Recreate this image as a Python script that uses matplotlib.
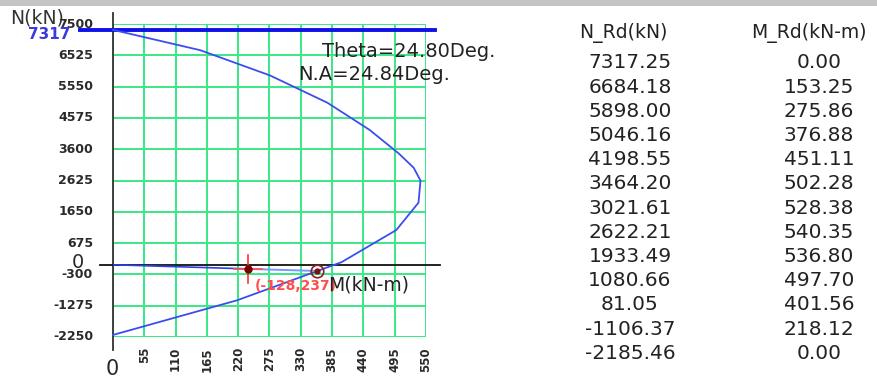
import numpy as np
import matplotlib
matplotlib.use("Agg")
import matplotlib.pyplot as plt
from matplotlib.patches import Rectangle

plt.rcParams['font.family'] = ['DejaVu Sans']

# Interaction diagram (axial resistance vs. moment resistance)
n_rd = [7317.25, 6684.18, 5898.00, 5046.16, 4198.55, 3464.20, 3021.61,
        2622.21, 1933.49, 1080.66, 81.05, -1106.37, -2185.46]
m_rd = [0.00, 153.25, 275.86, 376.88, 451.11, 502.28, 528.38,
        540.35, 536.80, 497.70, 401.56, 218.12, 0.00]

# Design load point (M, N)
load_m = 237
load_n = -128

theta_deg = 24.80
na_deg = 24.84

x_ticks = [55, 110, 165, 220, 275, 330, 385, 440, 495, 550]
y_ticks = [7500, 6525, 5550, 4575, 3600, 2625, 1650, 675, -300, -1275, -2250]

W, H = 878, 379
fig = plt.figure(figsize=(W / 100, H / 100), dpi=100)
fig.patch.set_facecolor('white')

# grey title strip along the top edge
fig.add_artist(Rectangle((0, 1 - 6 / H), 1, 6 / H, transform=fig.transFigure,
                         facecolor='#c4c4c4', edgecolor='none'))

ax = fig.add_axes([113 / W, (H - 337) / H, 313 / W, 313 / H])
ax.set_xlim(0, 550)
ax.set_ylim(-2250, 7500)
ax.axis('off')

grid_c = '#3ae884'
ax.vlines([0] + x_ticks, -2250, 7500, color=grid_c, lw=1.4, zorder=1)
ax.hlines(y_ticks, 0, 550, color=grid_c, lw=1.4, zorder=1)

# axes lines
ax.plot([0, 0], [-2660, 7840], color='#333333', lw=1.3, clip_on=False, zorder=3)
ax.plot([-23, 575], [0, 0], color='#111111', lw=1.3, clip_on=False, zorder=3)

# squash load limit
ax.plot([-58, 566], [n_rd[0], n_rd[0]], color='#1010e8', lw=2.8,
        clip_on=False, zorder=4)

# capacity curve
ax.plot(m_rd, n_rd, color='#3a4ef0', lw=1.3, clip_on=False, zorder=4)

# capacity point: load line from origin meets the curve
k = load_n / load_m
cap = None
for i in range(len(m_rd) - 1):
    m1, n1, m2, n2 = m_rd[i], n_rd[i], m_rd[i + 1], n_rd[i + 1]
    f1, f2 = n1 - k * m1, n2 - k * m2
    if m1 > 0 and f1 * f2 <= 0 and f1 != f2:
        t = f1 / (f1 - f2)
        cap = (m1 + t * (m2 - m1), n1 + t * (n2 - n1))
cap_m, cap_n = cap

ax.plot([0, load_m], [0, load_n], color='#2a40e8', lw=1.2, zorder=5)
ax.plot([load_m, cap_m], [load_n, cap_n], color='#7a96ff', lw=1.4, zorder=5)
ax.plot([load_m - 25, load_m + 25], [load_n, load_n], color='#ff5050', lw=1.2, zorder=6)
ax.plot([load_m, load_m], [load_n - 450, load_n + 420], color='#ff3030', lw=1.2, zorder=6)
ax.plot(load_m, load_n, 'o', color='#7a0000', ms=5, zorder=7)
ax.plot(cap_m, cap_n, 'o', mfc='none', mec='#8a2020', ms=9, mew=1.2, zorder=7)
ax.plot(cap_m, cap_n, 'o', color='#7a1010', ms=3.5, zorder=7)

# tick labels
lab_c = '#2a2a2a'
for v in y_ticks:
    ax.text(-35, v, str(v), ha='right', va='center', fontsize=9,
            fontweight='bold', color=lab_c, clip_on=False)
for v in x_ticks:
    ax.text(v, -2561, str(v), ha='center', va='top', rotation=90,
            fontsize=8.5, fontweight='bold', color=lab_c, clip_on=False)
ax.text(-2, -3434, '0', ha='center', va='baseline', fontsize=15, color=lab_c)
ax.text(-61, 70, '0', ha='center', va='center', fontsize=14, color=lab_c)

ax.text(-181, 7531, 'N(kN)', ha='left', va='baseline', fontsize=13.5,
        color='#333333')
ax.text(-75, 7033, f'{n_rd[0]:.0f}', ha='right', va='baseline', fontsize=11,
        fontweight='bold', color='#3a3ae0')

ax.text(367, 6463, f'Theta={theta_deg:.2f}Deg.', ha='left', va='baseline',
        fontsize=14, color='#222222')
ax.text(325, 5756, f'N.A={na_deg:.2f}Deg.', ha='left', va='baseline',
        fontsize=14, color='#222222')

ax.text(249, -786, f'({load_n},{load_m})', ha='left', va='baseline', fontsize=10,
        fontweight='bold', color='#ff4d4d', zorder=8)
ax.text(378, -786, 'M(kN-m)', ha='left', va='baseline', fontsize=13.5,
        color='#222222', zorder=9)

# result table
fig.text(623 / W, 1 - 33 / H, 'N_Rd(kN)', ha='center', va='center',
         fontsize=13.5, color='#222222')
fig.text(809 / W, 1 - 33 / H, 'M_Rd(kN-m)', ha='center', va='center',
         fontsize=13.5, color='#222222')
row0, step = 63, 24.2
for i, (n, m) in enumerate(zip(n_rd, m_rd)):
    y = 1 - (row0 + i * step) / H
    fig.text(630 / W, y, f'{n:.2f}', ha='center', va='center',
             fontsize=14.5, color='#222222')
    fig.text(819 / W, y, f'{m:.2f}', ha='center', va='center',
             fontsize=14.5, color='#222222')

fig.savefig('out.png', dpi=100)
